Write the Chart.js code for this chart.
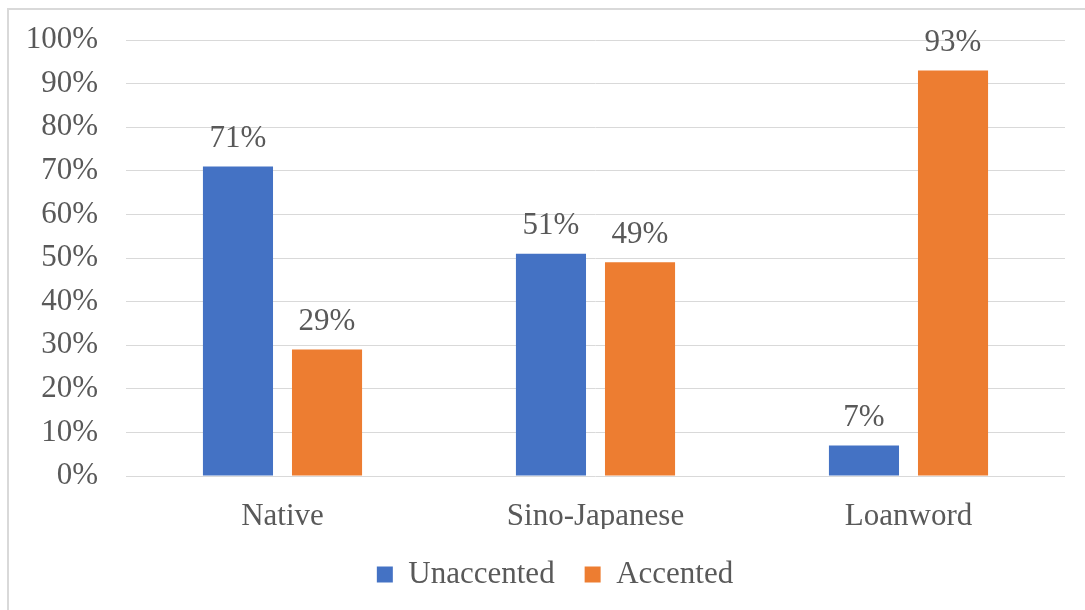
<!DOCTYPE html>
<html>
<head>
<meta charset="utf-8">
<script src="https://cdn.jsdelivr.net/npm/chart.js@4"></script>
<style>
  html, body { margin: 0; padding: 0; background: #fff; overflow: hidden; }
  #wrap { position: relative; width: 1085px; height: 610px; overflow: hidden; }
  #frame { position: absolute; left: 7px; top: 8px; width: 1100px; height: 620px; border: 2px solid #d9d9d9; box-sizing: border-box; }
  #chart { position: absolute; left: 0; top: 0; }
</style>
</head>
<body>
<div id="wrap">
  <div id="frame"></div>
  <canvas id="chart" width="1085" height="610"></canvas>
</div>
<script>
// chart data
const categories = ['Native', 'Sino-Japanese', 'Loanword'];
const seriesNames = ['Unaccented', 'Accented'];
const unaccented = [71, 51, 7];
const accented = [29, 49, 93];
const seriesColors = ['#4472C4', '#ED7D31'];

const textColor = '#595959';
const fontFamily = '"Liberation Serif", "Times New Roman", serif';
const fontSize = 31;

// draws the % labels above each bar
const barLabels = {
  id: 'barLabels',
  afterDatasetsDraw(chart) {
    const ctx = chart.ctx;
    ctx.save();
    ctx.font = fontSize + 'px ' + fontFamily;
    ctx.fillStyle = textColor;
    ctx.textAlign = 'center';
    ctx.textBaseline = 'middle';
    chart.data.datasets.forEach(function(ds, i) {
      const meta = chart.getDatasetMeta(i);
      meta.data.forEach(function(bar, j) {
        ctx.fillText(ds.data[j] + '%', bar.x, bar.y - 28);
      });
    });
    ctx.restore();
  }
};

// legend sits a little right of the canvas centre
const legendShift = {
  id: 'legendShift',
  afterLayout(chart) {
    if (chart.legend) chart.legend.left += 45;
  }
};

new Chart(document.getElementById('chart'), {
  type: 'bar',
  data: {
    labels: categories,
    datasets: [
      { label: seriesNames[0], data: unaccented, backgroundColor: seriesColors[0] },
      { label: seriesNames[1], data: accented, backgroundColor: seriesColors[1] }
    ]
  },
  options: {
    responsive: false,
    animation: false,
    devicePixelRatio: 1,
    layout: { padding: { top: 40, right: 20, bottom: 10, left: 0 } },
    datasets: {
      bar: { categoryPercentage: 0.569, barPercentage: 0.787 }
    },
    scales: {
      x: {
        grid: { display: false },
        border: { display: false },
        ticks: { color: textColor, font: { family: fontFamily, size: fontSize }, padding: 14 },
        afterFit(scale) { scale.height = 53; }
      },
      y: {
        min: 0,
        max: 100,
        grid: { color: '#d9d9d9', lineWidth: 1, drawTicks: false },
        border: { display: false },
        ticks: {
          stepSize: 10,
          padding: 28,
          color: textColor,
          font: { family: fontFamily, size: fontSize },
          callback: function(v) { return v + '%'; }
        },
        afterFit(scale) {
          scale.width = 126;
          scale.paddingTop = 0;
          scale.paddingBottom = 0;
        }
      }
    },
    plugins: {
      legend: {
        position: 'bottom',
        labels: {
          color: textColor,
          font: { family: fontFamily, size: fontSize },
          boxWidth: 16,
          boxHeight: 16,
          padding: 30
        }
      },
      tooltip: { enabled: false }
    }
  },
  plugins: [barLabels, legendShift]
});
</script>
</body>
</html>
